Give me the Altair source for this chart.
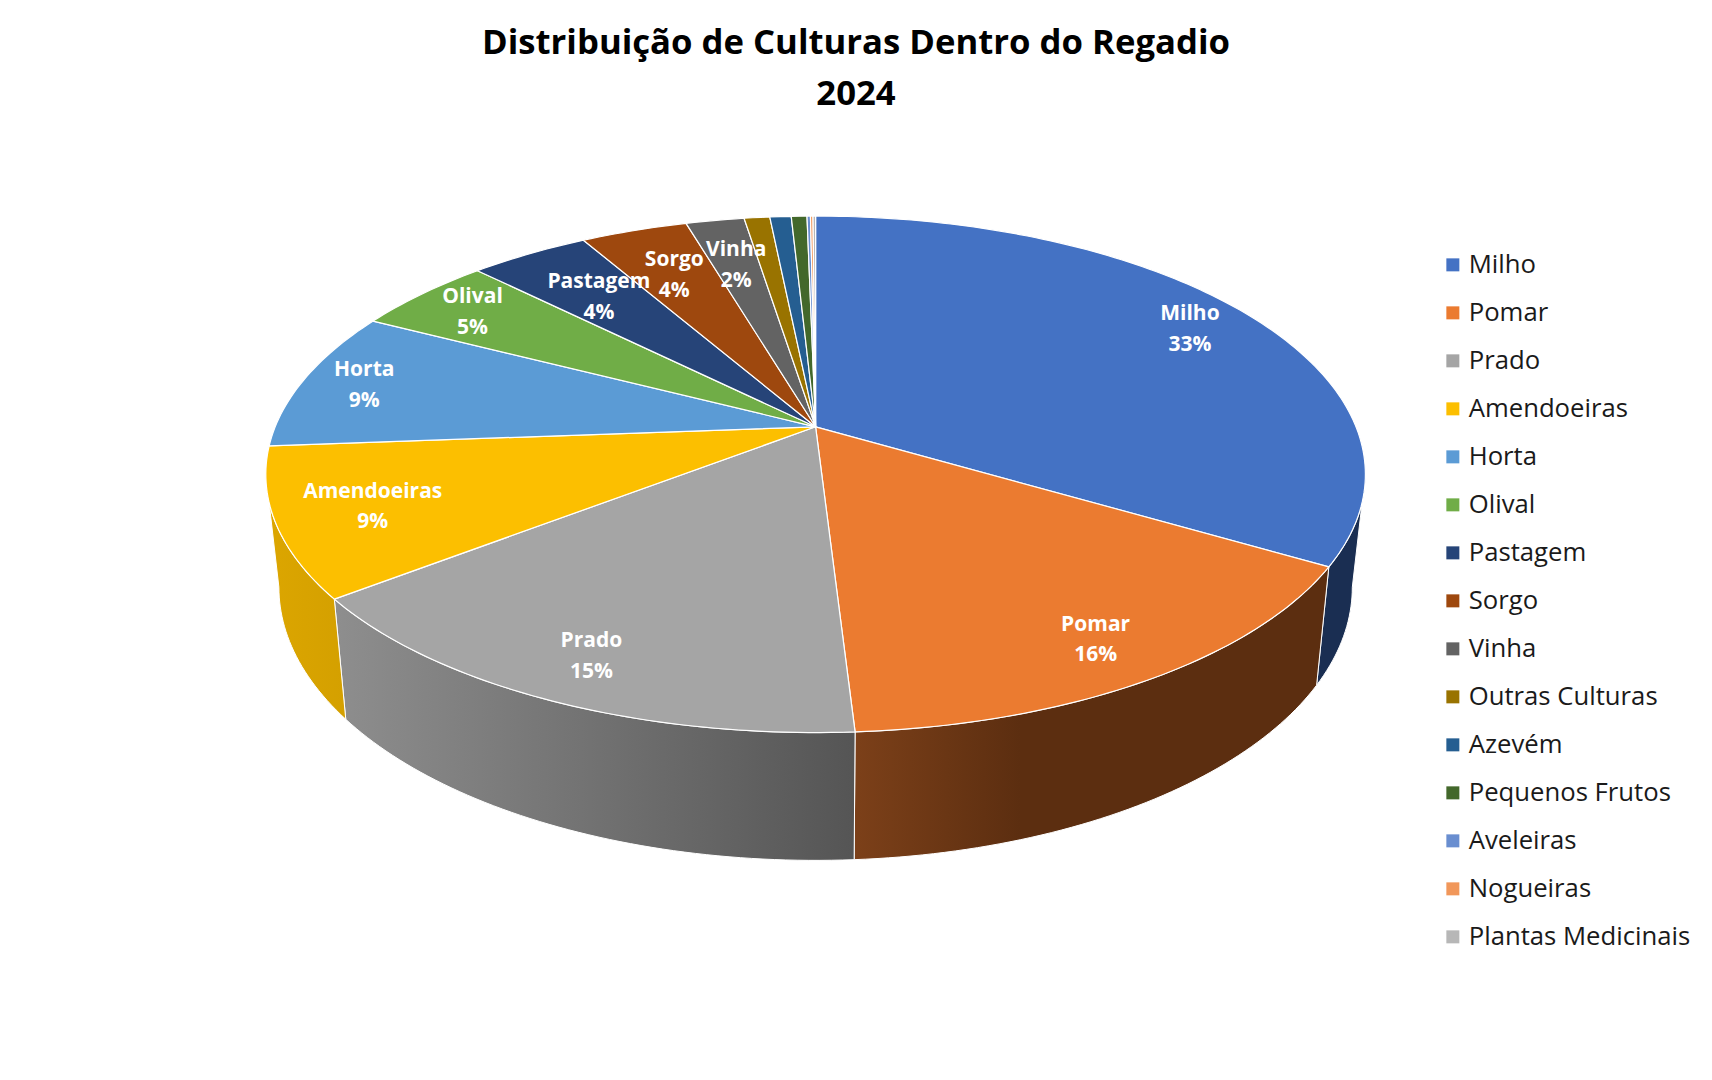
import math
import altair as alt
import pandas as pd

names = ["Milho", "Pomar", "Prado", "Amendoeiras", "Horta", "Olival", "Pastagem", "Sorgo", "Vinha",
         "Outras Culturas", "Azevém", "Pequenos Frutos", "Aveleiras", "Nogueiras", "Plantas Medicinais"]
values = [33.5, 15.55, 15.45, 9.3, 8.8, 4.9, 4.2, 3.75, 2.05, 0.9, 0.75, 0.55, 0.12, 0.09, 0.09]
colors = ["#4472C4", "#EB7B30", "#A5A5A5", "#FCBF00", "#5B9BD5", "#70AD47", "#264478", "#9E480E",
          "#636363", "#997300", "#255E91", "#43682B", "#698ED0", "#F1975A", "#B7B7B7"]
label_names = ["Milho", "Pomar", "Prado", "Amendoeiras", "Horta", "Olival", "Pastagem", "Sorgo", "Vinha"]
label_pct = ["33%", "16%", "15%", "9%", "9%", "5%", "4%", "4%", "2%"]
label_radius = [0.86, 0.86, 0.86, 0.83, 0.88, 0.86, 0.73, 0.75, 0.76]

FONT = "Open Sans"
CX, CY = 815.6, 425.8     # projected centre of the tilted disc
BX, BY, K = 540.4, 249.5, -0.184
TOP_C, TOP_RX, TOP_RY = 473.3, 550.3, 258.2
BOT_C, BOT_RX, BOT_RY = 586.3, 537.2, 273.0


def project(theta, r=1.0):
    u, v = r * math.sin(theta), -r * math.cos(theta)
    w = 1 + K * v
    return CX + BX * u / w, CY + BY * v / w


def lower(x, y):
    c, s = (x - CX) / TOP_RX, (y - TOP_C) / TOP_RY
    return CX + BOT_RX * c, BOT_C + BOT_RY * s


total = sum(values)
cum = [0.0]
for v in values:
    cum.append(cum[-1] + v / total)

# The rim is visible from the widest point of the ellipse on one side to the widest point on the other
D = TOP_C - CY
RIM_START = math.acos(-D / (BY - D * K)) / (2 * math.pi)
RIM_END = 1 - RIM_START

top_rows = []
for n, a, b in zip(names, cum[:-1], cum[1:]):
    steps = max(2, int((b - a) * 360))
    pts = [project(2 * math.pi * (a + (b - a) * j / steps)) for j in range(steps + 1)]
    pts = [(CX, CY)] + pts
    for i, (x, y) in enumerate(pts):
        top_rows.append({"name": n, "x": x, "y": y, "i": i})
top_df = pd.DataFrame(top_rows)


def wall(idx):
    a, b = cum[idx], cum[idx + 1]
    a, b = max(a, RIM_START), min(b, RIM_END)
    steps = max(2, int((b - a) * 360))
    up = [project(2 * math.pi * (a + (b - a) * j / steps)) for j in range(steps + 1)]
    pts = up + [lower(x, y) for x, y in reversed(up)]
    return pd.DataFrame([{"x": x, "y": y, "i": i} for i, (x, y) in enumerate(pts)])


X = alt.X("x:Q", axis=None, scale=alt.Scale(domain=[8, 1704], nice=False, zero=False))
Y = alt.Y("y:Q", axis=None, scale=alt.Scale(domain=[1072, 130], nice=False, zero=False))


def grad(c0, c1, mid=None):
    stops = [alt.GradientStop(offset=0, color=c0)]
    if mid:
        stops.append(alt.GradientStop(offset=mid, color=c1))
    stops.append(alt.GradientStop(offset=1, color=c1))
    return alt.LinearGradient(gradient="linear", x1=0, x2=1, y1=0, y2=0, stops=stops)


wall_fills = {0: "#1A2E52", 1: grad("#7C4019", "#5C2E10", 0.35), 2: grad("#8E8E8E", "#555555"),
              3: grad("#DCA600", "#D4A000")}
wall_layers = [
    alt.Chart(wall(i)).mark_line(fill=f, stroke="#FFFFFF", strokeWidth=1, interpolate="linear-closed",
                                 strokeJoin="round")
    .encode(x=X, y=Y, order=alt.Order("i:Q"))
    for i, f in wall_fills.items()
]

slices = alt.Chart(top_df).mark_line(filled=True, stroke="#FFFFFF", strokeWidth=1.2,
                                     interpolate="linear-closed", strokeJoin="round").encode(
    x=X, y=Y, order=alt.Order("i:Q"),
    fill=alt.Fill("name:N", scale=alt.Scale(domain=names, range=colors), sort=names,
                  legend=alt.Legend(title=None, orient="none", legendX=1432, legendY=121, symbolType="square",
                                    symbolSize=169, symbolStrokeWidth=0, labelFont=FONT, labelFontSize=25.7,
                                    labelColor="#1A1A1A", labelOffset=3, rowPadding=21, labelLimit=300,
                                    values=names, symbolOpacity=1)),
    detail="name:N",
)

label_rows = []
for n, p, r in zip(label_names, label_pct, label_radius):
    i = names.index(n)
    lx, ly = project(2 * math.pi * (cum[i] + cum[i + 1]) / 2, r)
    label_rows.append({"x": lx, "y": ly, "t": n + "\n" + p})
labels = alt.Chart(pd.DataFrame(label_rows)).mark_text(
    font=FONT, fontWeight="bold", fontSize=21, color="#FFFFFF", lineBreak="\n", lineHeight=30.6,
    align="center", baseline="middle", dy=-14).encode(x=X, y=Y, text="t:N")

chart = alt.layer(*wall_layers, slices, labels).properties(
    width=1696, height=942, padding={"left": 0, "right": 0, "top": 18, "bottom": 0}, background="#FFFFFF",
    title=alt.TitleParams(text=["Distribuição de Culturas Dentro do Regadio", "2024"], font=FONT,
                          fontSize=34.7, fontWeight="bold", color="#000000", lineHeight=51,
                          anchor="middle", offset=18),
).configure_view(strokeWidth=0, stroke="transparent")

chart.save("out.html", embed_options={"renderer": "svg", "actions": False})
